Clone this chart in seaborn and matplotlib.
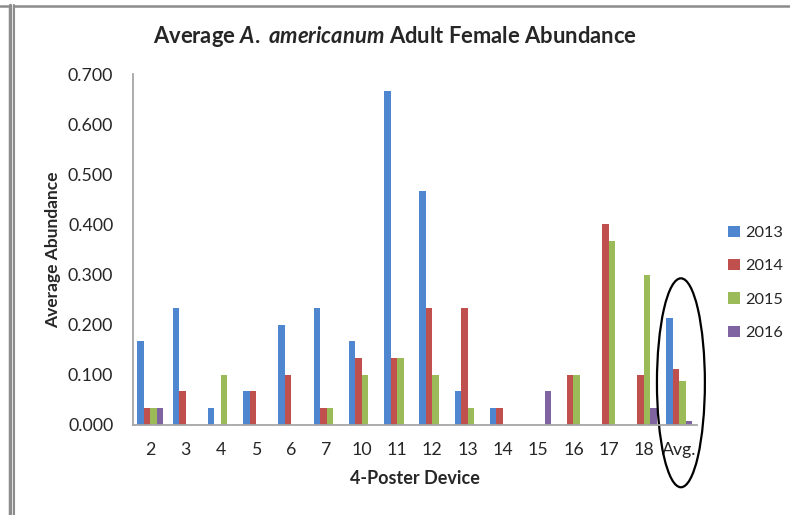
"""
Average A. americanum adult female abundance per 4-poster device,
grouped bars by year, with the average group circled.
"""

import pandas as pd
import matplotlib
matplotlib.use("Agg")
import matplotlib.pyplot as plt
from matplotlib.patches import Ellipse
from matplotlib.lines import Line2D
import seaborn as sns

devices = ["2", "3", "4", "5", "6", "7", "10", "11", "12", "13", "14", "15", "16", "17", "18", "Avg."]
years = ["2013", "2014", "2015", "2016"]

abund_2013 = [0.167, 0.233, 0.033, 0.067, 0.200, 0.233, 0.167, 0.667, 0.467, 0.067, 0.033, 0.0, 0.0, 0.0, 0.0, 0.213]
abund_2014 = [0.033, 0.067, 0.0, 0.067, 0.100, 0.033, 0.133, 0.133, 0.233, 0.233, 0.033, 0.0, 0.100, 0.400, 0.100, 0.112]
abund_2015 = [0.033, 0.0, 0.100, 0.0, 0.0, 0.033, 0.100, 0.133, 0.100, 0.033, 0.0, 0.0, 0.100, 0.367, 0.300, 0.087]
abund_2016 = [0.033, 0.0, 0.0, 0.0, 0.0, 0.0, 0.0, 0.0, 0.0, 0.0, 0.0, 0.067, 0.0, 0.0, 0.033, 0.008]

colors = ["#4F86D0", "#C0504D", "#9BBB59", "#8064A2"]

# long format for seaborn
rows = []
for year, vals in zip(years, [abund_2013, abund_2014, abund_2015, abund_2016]):
    for dev, v in zip(devices, vals):
        rows.append({"device": dev, "year": year, "abundance": v})
df = pd.DataFrame(rows)

sns.set_style("white")
plt.rcParams["font.family"] = ["Lato", "DejaVu Sans"]
plt.rcParams["mathtext.fontset"] = "custom"
plt.rcParams["mathtext.it"] = "Lato:italic:bold"
plt.rcParams["mathtext.rm"] = "Lato:bold"

fig = plt.figure(figsize=(7.9, 5.15), dpi=100)
ax = fig.add_axes([0.168, 0.175, 0.714, 0.681])

sns.barplot(
    data=df, x="device", y="abundance", hue="year",
    order=devices, hue_order=years, palette=colors,
    width=0.74, saturation=1, linewidth=0, ax=ax
)

ax.set_ylim(0, 0.7)
ax.set_xlim(-0.5, len(devices) - 0.5)
ax.set_yticks([i / 10 for i in range(8)])
ax.set_yticklabels([f"{i / 10:.3f}" for i in range(8)], fontsize=12.8, color="#262626")
ax.tick_params(axis="x", labelsize=12.8, colors="#262626", pad=12, length=0)
ax.tick_params(axis="y", pad=14, length=0)

ax.set_xlabel("4-Poster Device", fontsize=13, fontweight="bold", labelpad=9)
ax.set_ylabel("Average Abundance", fontsize=12.5, fontweight="bold", labelpad=5)

for side in ["top", "right"]:
    ax.spines[side].set_visible(False)
for side in ["left", "bottom"]:
    ax.spines[side].set_color("#a6a6a6")
    ax.spines[side].set_linewidth(1.3)

fig.text(0.5, 0.93, r"Average $\mathit{A.}$ $\mathit{americanum}$ Adult Female Abundance",
         ha="center", va="center", fontsize=15.8, fontweight="bold")

leg = ax.legend(loc="center left", bbox_to_anchor=(1.03, 0.405), frameon=False,
                fontsize=11.8, handlelength=0.7, handleheight=0.7,
                handletextpad=0.3, labelspacing=1.15)

# circle around the average group
ax.add_patch(Ellipse((15.05, 0.084), width=1.36, height=0.417, fill=False,
                     edgecolor="black", linewidth=1.6, clip_on=False))

# gray page frame
W, H = 790, 515
frame = "#8c8c8c"
fig.add_artist(Line2D([9.5 / W, 9.5 / W], [0, 1 - 5 / H], color=frame, linewidth=2.5))
fig.add_artist(Line2D([14 / W, 14 / W], [0, 1 - 5 / H], color=frame, linewidth=1.5))
fig.add_artist(Line2D([14 / W, 1], [1 - 5.5 / H, 1 - 5.5 / H], color=frame, linewidth=1.8))
fig.add_artist(Line2D([0, 8 / W], [1 - 5.5 / H, 1 - 5.5 / H], color=frame, linewidth=1.8))

fig.savefig("out.png", dpi=100)
